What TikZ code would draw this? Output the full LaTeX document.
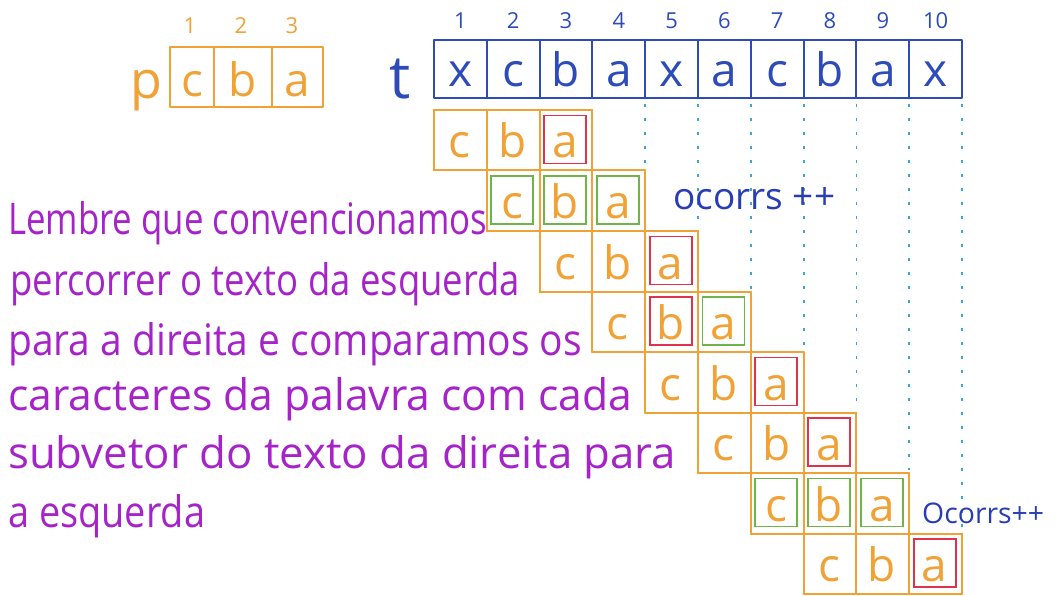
\documentclass[tikz,border=0pt]{standalone}
\usepackage{fontspec}
\usepackage{graphicx}
\setmainfont{Open Sans}
\definecolor{penorange}{RGB}{240,162,55}
\definecolor{penblue}{RGB}{45,75,185}
\definecolor{penpurple}{RGB}{165,35,200}
\definecolor{pengreen}{RGB}{110,180,70}
\definecolor{penred}{RGB}{225,50,75}
\definecolor{pencyan}{RGB}{60,165,215}
\definecolor{penink}{RGB}{40,60,180}
\begin{document}
\begin{tikzpicture}[x=1pt,y=-1pt,
  pen/.style={line width=2pt, line cap=round, line join=round},
  orangepen/.style={pen, draw=penorange},
  bluepen/.style={pen, draw=penblue},
  dotline/.style={draw=pencyan, line width=1.8pt, dash pattern=on 3pt off 11pt},
  pletter/.style={font=\fontsize{46}{46}\selectfont, text=penorange, inner sep=0pt, anchor=base},
  tletter/.style={font=\fontsize{46}{46}\selectfont, text=penblue, inner sep=0pt, anchor=base},
  tnum/.style={font=\fontsize{22}{22}\selectfont, text=penblue, inner sep=0pt},
  pnum/.style={font=\fontsize{22}{22}\selectfont, text=penorange, inner sep=0pt},
  matchbox/.style={draw=pengreen, line width=1.8pt, minimum width=42pt, minimum height=48pt, inner sep=0pt},
  missbox/.style={draw=penred, line width=1.8pt, minimum width=42pt, minimum height=48pt, inner sep=0pt},
  note/.style={text=penpurple, inner sep=0pt, anchor=base west, font=\fontsize{40}{40}\selectfont},
  counter/.style={text=penink, inner sep=0pt, anchor=base west, font=\fontsize{40}{40}\selectfont}
]
\useasboundingbox (0,0) rectangle (1060,596);

% ---------- pattern p ----------
\node[pletter, font=\fontsize{52}{52}\selectfont] (plabel) at (146,99) {p};
\draw[orangepen] (170,47) rectangle (323,107);
\draw[orangepen] (214,47) -- (214,107) (272,47) -- (272,107);
\node[pletter] (pc) at (192,97) {c};
\node[pletter] (pb) at (243,97) {b};
\node[pletter] (pa) at (297,97) {a};
\node[pnum] (pn1) at (190,26) {1};
\node[pnum] (pn2) at (241,26) {2};
\node[pnum] (pn3) at (292,26) {3};

% ---------- text t ----------
\node[tletter, font=\fontsize{60}{60}\selectfont] (tlabel) at (400,99) {t};
\draw[bluepen] (434,40) rectangle (962,98);
\foreach \k in {1,...,9} {
  \draw[bluepen] (434+52.8*\k,40) -- (434+52.8*\k,98);
}
\foreach \k/\L in {1/x,2/c,3/b,4/a,5/x,6/a,7/c,8/b,9/a,10/x} {
  \node[tletter] (t\k) at (434+52.8*\k-26.4,87) {\L};
  \node[tnum] (tn\k) at (434+52.8*\k-26.4,21) {\k};
}

% ---------- dotted guides ----------
\foreach \k in {4,...,10} {
  \draw[dotline] (434+52.8*\k,104) -- (434+52.8*\k,110+60.5*\k-60.5*3-3);
}

% ---------- staircase of alignments ----------
\draw[orangepen] (434,110) -- (434+52.8*3,110);
\foreach \r in {1,...,7} {
  \draw[orangepen] (434+52.8*\r-52.8,110+60.5*\r) -- (434+52.8*\r+52.8*3,110+60.5*\r);
}
\draw[orangepen] (434+52.8*7,594) -- (962,594);
\foreach \r in {1,...,8} {
  \foreach \j in {0,...,3} {
    \draw[orangepen] (434+52.8*\r-52.8+52.8*\j,110+60.5*\r-60.5) -- (434+52.8*\r-52.8+52.8*\j,110+60.5*\r);
  }
}

\foreach \r/\sa/\sb/\sc in {1/0/0/2,2/1/1/1,3/0/0/2,4/0/2/1,5/0/0/2,6/0/0/2,7/1/1/1,8/0/0/2} {
  \foreach \j/\st/\L in {0/\sa/c,1/\sb/b,2/\sc/a} {
    \pgfmathsetmacro{\xc}{434+52.8*(\r-1+\j)+26.4}
    \pgfmathsetmacro{\yt}{110+60.5*(\r-1)}
    \ifnum\st=1 \node[matchbox] (m\r\j) at (\xc-1,\yt+29.5) {};\fi
    \ifnum\st=2 \node[missbox] (m\r\j) at (\xc-1,\yt+29.5) {};\fi
    \node[pletter] (c\r\j) at (\xc-1,\yt+48) {\L};
  }
}

\node[counter] (occ1) at (673,210) {\resizebox{162pt}{!}{ocorrs ++}};
\node[counter] (occ2) at (922,523) {\resizebox{122pt}{!}{Ocorrs++}};

% ---------- note ----------
\node[note] (l1) at (8,235) {\resizebox{479pt}{33pt}{Lembre que convencionamos}};
\node[note] (l2) at (10,295) {\resizebox{510pt}{33pt}{percorrer o texto da esquerda}};
\node[note] (l3) at (8,355) {\resizebox{574pt}{33pt}{para a direita e comparamos os}};
\node[note] (l4) at (8,410) {\resizebox{624pt}{33pt}{caracteres da palavra com cada}};
\node[note] (l5) at (8,468) {\resizebox{668pt}{33pt}{subvetor do texto da direita para}};
\node[note] (l6) at (8,527) {\resizebox{197pt}{33pt}{a esquerda}};
\end{tikzpicture}
\end{document}
